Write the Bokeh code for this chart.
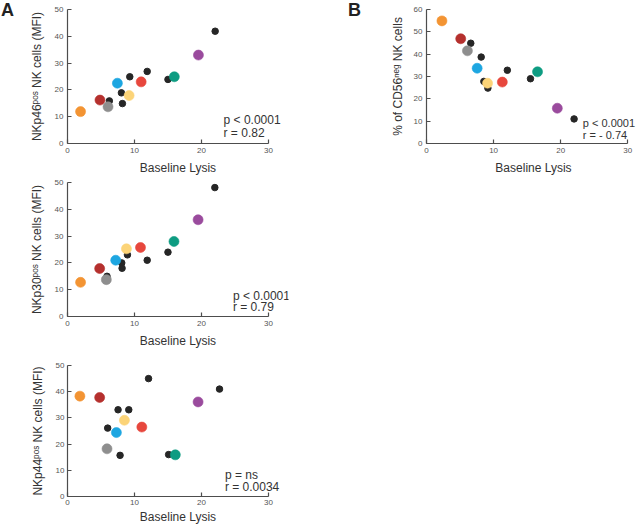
from bokeh.plotting import figure
from bokeh.models import Range1d, FixedTicker, Label, ColumnDataSource, Div
from bokeh.layouts import row, column
from bokeh.embed import file_html
from bokeh.resources import INLINE

# ---------------- data ----------------
donor_colors = ["#F39433", "#B5302E", "#8E8E8E", "#1DA6E1",
                "#FCD478", "#E7473D", "#0E9C82", "#9A4B9D"]
other_color = "#262626"

x_ticks = [0, 10, 20, 30]
mfi_ticks = [0, 10, 20, 30, 40, 50]
pct_ticks = [0, 10, 20, 30, 40, 50, 60]

# NKp46
nkp46_col_x = [1.95, 4.85, 6.05, 7.45, 9.2, 11.0, 15.95, 19.55]
nkp46_col_y = [11.9, 16.2, 13.7, 22.5, 17.9, 23.0, 24.9, 33.0]
nkp46_blk_x = [22.05, 11.9, 9.3, 15.0, 8.05, 6.25, 8.2]
nkp46_blk_y = [41.9, 26.9, 24.9, 23.9, 18.9, 15.9, 14.9]

# NKp30
nkp30_col_x = [1.95, 4.8, 5.8, 7.2, 8.8, 10.9, 15.9, 19.5]
nkp30_col_y = [12.75, 17.9, 13.75, 21.0, 25.25, 25.75, 28.0, 36.1]
nkp30_blk_x = [22.0, 15.0, 8.95, 11.9, 8.1, 8.15, 5.9]
nkp30_blk_y = [48.1, 24.0, 23.0, 21.0, 20.0, 18.0, 15.0]

# NKp44
nkp44_col_x = [1.85, 4.8, 5.9, 7.3, 8.5, 11.1, 16.1, 19.5]
nkp44_col_y = [38.3, 37.8, 18.2, 24.4, 29.1, 26.5, 15.9, 36.1]
nkp44_blk_x = [12.1, 22.7, 7.55, 9.15, 6.0, 7.85, 15.1]
nkp44_blk_y = [45.0, 41.0, 33.1, 33.1, 26.1, 15.7, 16.0]

# CD56neg
cd56_col_x = [2.3, 5.1, 6.1, 7.55, 9.1, 11.3, 16.55, 19.5]
cd56_col_y = [54.9, 46.9, 41.5, 33.7, 27.0, 27.5, 32.1, 15.8]
cd56_blk_x = [6.6, 8.15, 12.05, 15.5, 8.55, 9.15, 22.0]
cd56_blk_y = [44.9, 38.7, 32.8, 29.0, 27.8, 24.8, 11.0]

stats_nkp46 = ["p < 0.0001", "r = 0.82"]
stats_nkp30 = ["p < 0.0001", "r = 0.79"]
stats_nkp44 = ["p = ns", "r = 0.0034"]
stats_cd56 = ["p < 0.0001", "r = - 0.74"]

FONT = "Liberation Sans"


def make_panel(col_x, col_y, blk_x, blk_y, xmax, ymax, yticks, ylabel, stats,
               stat_pos, width, height, borders, xlabel_standoff=5,
               tick_standoff=4, ylabel_standoff=8, stat_size="12px"):
    left, right, top, bottom = borders
    p = figure(width=width, height=height, x_range=Range1d(0, xmax),
               y_range=Range1d(0, ymax), output_backend="svg",
               toolbar_location=None, min_border_left=left,
               min_border_right=right, min_border_top=top,
               min_border_bottom=bottom)
    p.grid.visible = False
    p.outline_line_color = None
    p.background_fill_color = "white"
    p.border_fill_color = "white"

    for ax, ticks in ((p.xaxis, x_ticks), (p.yaxis, yticks)):
        ax.ticker = FixedTicker(ticks=ticks)
        ax.minor_tick_line_color = None
        ax.major_tick_in = 4
        ax.major_tick_out = 0
        ax.axis_line_color = "#4d4d4d"
        ax.axis_line_width = 1.2
        ax.major_tick_line_color = "#4d4d4d"
        ax.major_tick_line_width = 1.2
        ax.major_label_text_font = FONT
        ax.major_label_text_font_size = "8px"
        ax.major_label_text_color = "#555555"
        ax.major_label_standoff = tick_standoff
        ax.axis_label_text_font = FONT
        ax.axis_label_text_font_size = "12px"
        ax.axis_label_text_font_style = "normal"
        ax.axis_label_text_color = "#333333"

    p.xaxis.bounds = (0, 30)
    p.xaxis.axis_label = "Baseline Lysis"
    p.xaxis.axis_label_standoff = xlabel_standoff
    p.yaxis.axis_label = ylabel
    p.yaxis.axis_label_standoff = ylabel_standoff

    p.scatter(blk_x, blk_y, size=6.5, fill_color=other_color,
              line_color=other_color)
    src = ColumnDataSource(dict(x=col_x, y=col_y, c=donor_colors))
    p.scatter("x", "y", source=src, size=10, fill_color="c", line_color="c",
              line_width=0.6)

    sx, sy1, sy2 = stat_pos
    for txt, yy in zip(stats, (sy1, sy2)):
        p.add_layout(Label(x=sx, y=yy, text=txt, text_font=FONT,
                           text_font_size=stat_size, text_color="#333333",
                           text_baseline="alphabetic", text_align="left"))
    return p


def letter_div(letter, width, pad_left):
    html = ('<div style="font-family: \'Liberation Sans\', Arial, sans-serif; '
            'font-weight: bold; font-size: 18px; line-height: 18px; '
            'color: #222222; padding-top: 1px; padding-left: %dpx;">%s</div>'
            % (pad_left, letter))
    return Div(text=html, width=width, height=22, margin=(0, 0, 0, 0))


LW = 310  # left panel figures (after the 20px letter column)
A_XMAX = 33
B_XMAX = 31.9

a1 = make_panel(nkp46_col_x, nkp46_col_y, nkp46_blk_x, nkp46_blk_y, A_XMAX,
                50, mfi_ticks, "NKp46\u1d56\u1d52\u02e2 NK cells (MFI)",
                stats_nkp46, (23.3, 8.9, 4.1), LW, 177, (47, 42, 9, 34))
a2 = make_panel(nkp30_col_x, nkp30_col_y, nkp30_blk_x, nkp30_blk_y, A_XMAX,
                50, mfi_ticks, "NKp30\u1d56\u1d52\u02e2 NK cells (MFI)",
                stats_nkp30, (24.7, 7.5, 3.4), LW, 173, (47, 42, 5, 34))
a3 = make_panel(nkp44_col_x, nkp44_col_y, nkp44_blk_x, nkp44_blk_y, A_XMAX,
                50, mfi_ticks, "NKp44\u1d56\u1d52\u02e2 NK cells (MFI)",
                stats_nkp44, (23.5, 8.1, 3.7), LW, 176, (47, 42, 15, 27),
                xlabel_standoff=2, tick_standoff=3)
b = make_panel(cd56_col_x, cd56_col_y, cd56_blk_x, cd56_blk_y, B_XMAX,
               60, pct_ticks, "% of CD56\u207f\u1d49\u1d4d NK cells",
               stats_cd56, (23.3, 9.4, 4.0), 270, 177, (56, 0, 9, 34),
               ylabel_standoff=6, stat_size="11px")

div_a = letter_div("A", 20, 1)
div_b = letter_div("B", 40, 18)

layout = row(div_a, column(a1, a2, a3), div_b, b)

open("out.html", "w").write(file_html(layout, INLINE))
